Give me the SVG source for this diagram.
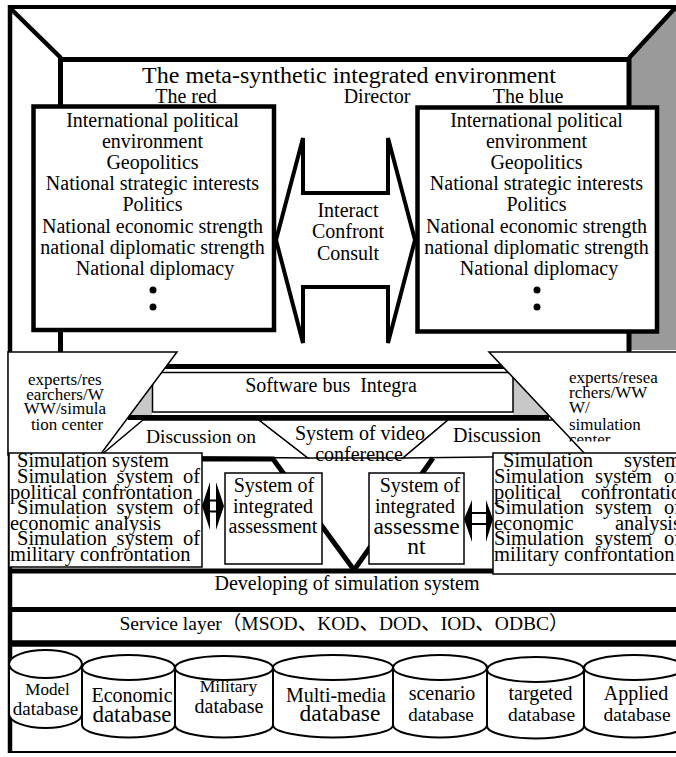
<svg xmlns="http://www.w3.org/2000/svg" width="676" height="757" viewBox="0 0 676 757">
<defs>
<style>
.t{font-family:"Liberation Serif","Times New Roman",serif;fill:#000}
.cjk{font-family:"Liberation Serif","Noto Sans CJK SC",serif}
.c{text-anchor:middle}
.line{fill:none;stroke:#000}
.box{fill:#fff;stroke:#000;stroke-width:4.5}
.thin{fill:#fff;stroke:#000;stroke-width:1.5}
.cyl{fill:#fff;stroke:#000;stroke-width:2}
</style>
<clipPath id="clipExpertsR"><rect x="489" y="352" width="190" height="89.5"/></clipPath>
</defs>
<rect width="676" height="757" fill="#fff"/>
<g font-size="20">

<!-- room: outer frame, back wall and grey side wall -->
<g id="room">
  <polygon points="630,57 676,8 676,350 630,350" fill="#9a9a9a"/>
  <line class="line" x1="8" y1="7" x2="676" y2="7" stroke-width="4"/>
  <line class="line" x1="10" y1="5" x2="10" y2="753" stroke-width="4.5"/>
  <line class="line" x1="8" y1="752" x2="676" y2="752" stroke-width="2"/>
  <line class="line" x1="10" y1="8" x2="61" y2="58" stroke-width="4.5"/>
  <line class="line" x1="675" y1="8" x2="629" y2="58" stroke-width="4.5"/>
  <path class="line" d="M60.5,352 V59.5 H629 V352" stroke-width="5"/>
  <text class="t c" x="349" y="83" font-size="24">The meta-synthetic integrated environment</text>
  <text class="t c" x="186" y="103">The red</text>
  <text class="t c" x="377" y="103">Director</text>
  <text class="t c" x="528" y="103">The blue</text>
</g>

<!-- red side -->
<g id="red">
  <rect class="box" x="33.5" y="106.5" width="240.5" height="223.5"/>
  <text class="t c" x="155">
    <tspan x="155" y="126.5">International political</tspan>
    <tspan x="155" y="147.7">environment</tspan>
    <tspan x="155" y="168.9">Geopolitics</tspan>
    <tspan x="155" y="190.1">National strategic interests</tspan>
    <tspan x="155" y="211.3">Politics</tspan>
    <tspan x="155" y="232.5">National economic strength</tspan>
    <tspan x="155" y="253.7">national diplomatic strength</tspan>
    <tspan x="155" y="274.9">National diplomacy</tspan>
  </text>
  <circle cx="153" cy="290" r="3.5"/>
  <circle cx="153" cy="307" r="3.5"/>
</g>

<!-- blue side -->
<g id="blue">
  <rect class="box" x="417.5" y="107.5" width="239.5" height="224"/>
  <text class="t c" x="539">
    <tspan x="539" y="126.5">International political</tspan>
    <tspan x="539" y="147.7">environment</tspan>
    <tspan x="539" y="168.9">Geopolitics</tspan>
    <tspan x="539" y="190.1">National strategic interests</tspan>
    <tspan x="539" y="211.3">Politics</tspan>
    <tspan x="539" y="232.5">National economic strength</tspan>
    <tspan x="539" y="253.7">national diplomatic strength</tspan>
    <tspan x="539" y="274.9">National diplomacy</tspan>
  </text>
  <circle cx="537" cy="290" r="3.5"/>
  <circle cx="537" cy="307" r="3.5"/>
</g>

<!-- interaction arrow between the two sides -->
<g id="interact">
  <polygon points="276,240 303,138 303,193 388,193 388,138 415,240 388,343 388,287 303,287 303,343" fill="#fff" stroke="#000" stroke-width="4" stroke-miterlimit="3"/>
  <text class="t c" x="348" y="217">Interact</text>
  <text class="t c" x="348" y="238">Confront</text>
  <text class="t c" x="348" y="260">Consult</text>
</g>

<!-- software bus slab -->
<g id="bus">
  <polygon points="152,385 152,415 128.5,415" fill="#c8c8c8"/>
  <polygon points="513,377 513,415 550,415" fill="#c8c8c8"/>
  <rect x="152.5" y="372.5" width="360.5" height="39.5" fill="#fff" stroke="#000" stroke-width="1.5"/>
  <line class="line" x1="152" y1="366.5" x2="505" y2="366.5" stroke-width="5"/>
  <line class="line" x1="128" y1="417.5" x2="549" y2="417.5" stroke-width="5"/>
  <text class="t c" x="331" y="392">Software bus&#160; Integra</text>
</g>

<!-- experts / researchers / WWW / simulation center -->
<g id="expertsLeft">
  <polygon class="thin" points="8,352 177,352 100,455 8,455"/>
  <text class="t c" x="67" font-size="17">
    <tspan x="67" y="385">experts/res</tspan>
    <tspan x="67" y="399.5">earchers/W</tspan>
    <tspan x="67" y="414">WW/simula</tspan>
    <tspan x="67" y="430">tion center</tspan>
  </text>
</g>

<!-- discussion and video conference faces -->
<g id="discussionLeft">
  <polygon class="thin" points="143,420 259,420 308,458 100,456"/>
  <text class="t c" x="201" y="443" font-size="19.5">Discussion on</text>
</g>
<g id="videoConference">
  <polygon class="thin" points="259,420 448,420 403,458 308,458"/>
  <text class="t c" x="360" y="440">System of video</text>
  <text class="t c" x="359" y="461">conference</text>
</g>
<g id="discussionRight">
  <polygon class="thin" points="448,420 553,420 590,456 403,458"/>
  <text class="t c" x="497" y="442">Discussion</text>
</g>

<g id="expertsRight">
  <polygon class="thin" points="489,352 690,352 690,455 586,455"/>
  <text class="t" x="569" font-size="17" clip-path="url(#clipExpertsR)">
    <tspan x="569" y="383">experts/resea</tspan>
    <tspan x="569" y="398">rchers/WW</tspan>
    <tspan x="569" y="413">W/</tspan>
    <tspan x="569" y="430">simulation</tspan>
    <tspan x="569" y="445">center</tspan>
  </text>
</g>

<!-- connectors -->
<g id="connectors">
  <polyline class="line" points="195,459 273,459 354,570" stroke-width="5"/>
  <line class="line" x1="433" y1="458" x2="354" y2="570" stroke-width="5"/>
  <!-- small two-way arrows -->
  <polygon points="202,506 210,482 210,530"/>
  <polygon points="224,506 216,482 216,530"/>
  <rect x="209" y="500.5" width="8" height="11" fill="#fff" stroke="#000" stroke-width="2"/>
  <polygon points="464,519 472,500 472,542"/>
  <polygon points="493,519 486,500 486,542"/>
  <rect x="471" y="513" width="16" height="11" fill="#fff" stroke="#000" stroke-width="2"/>
</g>

<!-- layers -->
<g id="layers">
  <line class="line" x1="8" y1="571" x2="676" y2="571" stroke-width="5"/>
  <line class="line" x1="8" y1="609.5" x2="676" y2="609.5" stroke-width="5"/>
  <line class="line" x1="8" y1="643.5" x2="676" y2="643.5" stroke-width="6.5"/>
  <text class="t c" x="347" y="590">Developing of simulation system</text>
  <text class="t cjk c" x="344" y="630" font-size="19.5">Service layer（MSOD、KOD、DOD、IOD、ODBC）</text>
</g>

<!-- simulation systems -->
<g id="simLeft">
  <rect class="thin" x="9" y="453" width="193" height="114"/>
  <text class="t" font-size="20.5">
    <tspan x="17" y="467">Simulation system</tspan>
    <tspan x="17" y="483">Simulation</tspan><tspan x="116.5" y="483">system</tspan><tspan x="183" y="483">of</tspan>
    <tspan x="10" y="498.5">political confrontation</tspan>
    <tspan x="17" y="514">Simulation</tspan><tspan x="116.5" y="514">system</tspan><tspan x="183" y="514">of</tspan>
    <tspan x="10" y="529.5">economic analysis</tspan>
    <tspan x="17" y="545">Simulation</tspan><tspan x="116.5" y="545">system</tspan><tspan x="183" y="545">of</tspan>
    <tspan x="10" y="560.5">military confrontation</tspan>
  </text>
</g>
<g id="assessLeft">
  <rect class="thin" x="225" y="473" width="97" height="91"/>
  <text class="t c" x="274" y="492">System of</text>
  <text class="t c" x="273" y="513">integrated</text>
  <text class="t c" x="273" y="533">assessment</text>
</g>
<g id="assessRight">
  <rect class="thin" x="369" y="473" width="95" height="91"/>
  <text class="t c" x="420" y="492">System of</text>
  <text class="t c" x="415" y="513">integrated</text>
  <text class="t c" x="416.5" y="534" font-size="23.5">assessme</text>
  <text class="t c" x="416.5" y="554" font-size="23.5">nt</text>
</g>
<g id="simRight">
  <rect class="thin" x="493" y="453" width="195" height="121"/>
  <text class="t" font-size="20.5">
    <tspan x="503" y="467">Simulation</tspan><tspan x="624" y="467">system</tspan>
    <tspan x="494" y="483">Simulation</tspan><tspan x="595" y="483">system</tspan><tspan x="664" y="483">of</tspan>
    <tspan x="494" y="498.5">political</tspan><tspan x="581" y="498.5">confrontation</tspan>
    <tspan x="494" y="514">Simulation</tspan><tspan x="595" y="514">system</tspan><tspan x="664" y="514">of</tspan>
    <tspan x="494" y="529.5">economic</tspan><tspan x="615" y="529.5">analysis</tspan>
    <tspan x="494" y="545">Simulation</tspan><tspan x="595" y="545">system</tspan><tspan x="664" y="545">of</tspan>
    <tspan x="494" y="560.5">military confrontation</tspan>
  </text>
</g>

<!-- databases -->
<g id="dbModel">
  <path class="cyl" d="M9,664 V714 A36.5,14 0 0 0 82,714 V664"/>
  <ellipse class="cyl" cx="45.5" cy="664" rx="36.5" ry="14"/>
  <text class="t c" x="47.5" y="695" font-size="17">Model</text>
  <text class="t c" x="45.5" y="715" font-size="19">database</text>
</g>
<g id="dbEconomic">
  <path class="cyl" d="M82,667.5 V725 A46.5,12.5 0 0 0 175,725 V667.5"/>
  <ellipse class="cyl" cx="128.5" cy="667.5" rx="46.5" ry="12.5"/>
  <text class="t c" x="132" y="702">Economic</text>
  <text class="t c" x="132" y="722" font-size="23">database</text>
</g>
<g id="dbMilitary">
  <path class="cyl" d="M175,668 V725 A49,12.5 0 0 0 273,725 V668"/>
  <ellipse class="cyl" cx="224" cy="668" rx="49" ry="12"/>
  <text class="t c" x="228.5" y="692" font-size="17.5">Military</text>
  <text class="t c" x="229" y="713">database</text>
</g>
<g id="dbMultimedia">
  <path class="cyl" d="M273,667.5 V725 A60,12.5 0 0 0 393,725 V667.5"/>
  <ellipse class="cyl" cx="333" cy="667.5" rx="60" ry="12.5"/>
  <text class="t c" x="336" y="702">Multi-media</text>
  <text class="t c" x="340" y="721" font-size="23.5">database</text>
</g>
<g id="dbScenario">
  <path class="cyl" d="M393,667.5 V725 A47,12.5 0 0 0 487,725 V667.5"/>
  <ellipse class="cyl" cx="440" cy="667.5" rx="47" ry="12.5"/>
  <text class="t c" x="442" y="700">scenario</text>
  <text class="t c" x="441" y="721" font-size="19">database</text>
</g>
<g id="dbTargeted">
  <path class="cyl" d="M487,669.5 V726 A48.5,12.5 0 0 0 584,726 V669.5"/>
  <ellipse class="cyl" cx="535.5" cy="669.5" rx="48.5" ry="12.5"/>
  <text class="t c" x="540.5" y="700">targeted</text>
  <text class="t c" x="541.5" y="721" font-size="19.5">database</text>
</g>
<g id="dbApplied">
  <path class="cyl" d="M584,667.5 V725 A50,12.5 0 0 0 684,725 V667.5"/>
  <ellipse class="cyl" cx="634" cy="667.5" rx="50" ry="12.5"/>
  <text class="t c" x="636" y="700">Applied</text>
  <text class="t c" x="637" y="721" font-size="19.5">database</text>
</g>
</g>
</svg>
